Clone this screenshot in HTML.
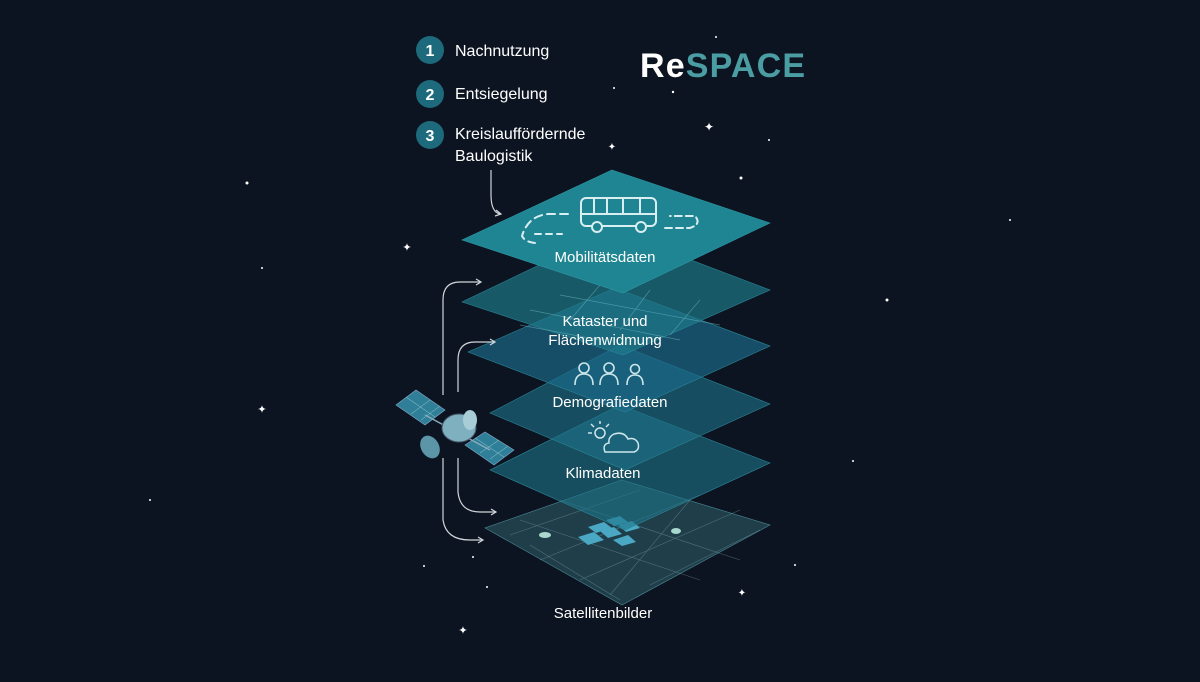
<!DOCTYPE html>
<html><head><meta charset="utf-8"><style>
html,body{margin:0;padding:0;background:#0d1421;}
body{width:1200px;height:682px;overflow:hidden;position:relative;font-family:"Liberation Sans",sans-serif;}
svg{position:absolute;left:0;top:0}
</style></head><body>
<svg width="1200" height="682" viewBox="0 0 1200 682" xmlns="http://www.w3.org/2000/svg">
<rect width="1200" height="682" fill="#0d1421"/>
<g fill="#fff">
<circle cx="247" cy="183" r="1.5"/><circle cx="262" cy="268" r="1"/><circle cx="741" cy="178" r="1.5"/><circle cx="887" cy="300" r="1.5"/>
<circle cx="853" cy="461" r="1"/><circle cx="795" cy="565" r="1"/><circle cx="424" cy="566" r="1"/><circle cx="473" cy="557" r="1"/>
<circle cx="487" cy="587" r="1"/><circle cx="673" cy="92" r="1.2"/><circle cx="614" cy="88" r="1"/><circle cx="716" cy="37" r="1"/>
<circle cx="769" cy="140" r="1"/><circle cx="1010" cy="220" r="1"/><circle cx="150" cy="500" r="1"/>
<text x="709" y="131" font-size="12" text-anchor="middle">✦</text><text x="407" y="251" font-size="11" text-anchor="middle">✦</text>
<text x="262" y="413" font-size="11" text-anchor="middle">✦</text><text x="463" y="634" font-size="11" text-anchor="middle">✦</text>
<text x="742" y="596" font-size="10" text-anchor="middle">✦</text><text x="612" y="150" font-size="10" text-anchor="middle">✦</text>
</g>
<g>
<polygon points="622,480 770,525 622,605 485,528" fill="#1f3e4a" stroke="#4a8a96" stroke-width="0.6"/>
<g stroke="#7aa4ac" stroke-width="0.6" opacity="0.5" fill="none">
<line x1="520" y1="520" x2="700" y2="580"/><line x1="560" y1="500" x2="740" y2="560"/><line x1="540" y1="560" x2="700" y2="495"/>
<line x1="580" y1="580" x2="740" y2="510"/><line x1="610" y1="595" x2="690" y2="500"/><line x1="510" y1="535" x2="640" y2="490"/>
<line x1="530" y1="545" x2="620" y2="600"/><line x1="650" y1="585" x2="760" y2="530"/>
</g>
<g fill="#4aa8c4"><polygon points="588,527 604,522 612,528 596,533"/><polygon points="606,520 620,516 628,522 614,526"/><polygon points="578,537 594,532 604,540 588,545"/><polygon points="600,531 614,527 622,534 608,538"/><polygon points="618,525 632,521 640,528 626,532"/><polygon points="613,540 628,535 636,542 622,546"/></g>
<g fill="#cfe" opacity="0.8"><ellipse cx="545" cy="535" rx="6" ry="3"/><ellipse cx="676" cy="531" rx="5" ry="3"/></g>
<polygon points="620,405 770,463 625,530 490,470" fill="#1d7588" fill-opacity="0.6" stroke="#2b8595" stroke-width="0.6"/>
<polygon points="620,345 770,404 625,470 490,413" fill="#1d7188" fill-opacity="0.62" stroke="#2b8595" stroke-width="0.6"/>
<polygon points="615,288 770,346 625,412 468,352" fill="#1b6a8a" fill-opacity="0.68" stroke="#2b8595" stroke-width="0.6"/>
<polygon points="612,230 770,290 623,355 462,302" fill="#1e7a8a" fill-opacity="0.68" stroke="#2b8595" stroke-width="0.6"/>
<g stroke="#6fbac4" stroke-width="0.7" opacity="0.55" fill="none"><line x1="530" y1="310" x2="680" y2="340"/><line x1="560" y1="295" x2="720" y2="325"/><line x1="600" y1="285" x2="570" y2="320"/><line x1="650" y1="290" x2="620" y2="330"/><line x1="700" y1="300" x2="670" y2="335"/><line x1="520" y1="325" x2="600" y2="340"/></g>
<polygon points="612,170 770,223 623,293 462,240" fill="#1f8593" stroke="#2e97a3" stroke-width="0.6"/>
</g>
<g stroke="#d8eef0" stroke-width="2" fill="none" stroke-linecap="round">
<rect x="581" y="198" width="75" height="28" rx="5"/><line x1="594" y1="198" x2="594" y2="214"/><line x1="607" y1="198" x2="607" y2="214"/><line x1="623" y1="198" x2="623" y2="214"/><line x1="640" y1="198" x2="640" y2="214"/><line x1="581" y1="214" x2="656" y2="214"/>
<circle cx="597" cy="227" r="5" fill="#1f8593"/><circle cx="641" cy="227" r="5" fill="#1f8593"/>
<path d="M568 214 H548 Q528 216 522 236 Q525 242 535 243" stroke-dasharray="8 5"/><line x1="535" y1="234" x2="562" y2="234" stroke-dasharray="6 5"/>
<path d="M665 228 H690 Q702 224 695 216 H670" stroke-dasharray="7 4"/>
</g>
<g stroke="#cde6ea" stroke-width="1.6" fill="none"><circle cx="584" cy="368" r="5"/><path d="M575 385 Q575 374 584 374 Q593 374 593 385"/><circle cx="609" cy="368" r="5"/><path d="M600 385 Q600 374 609 374 Q618 374 618 385"/><circle cx="635" cy="369" r="4.5"/><path d="M627 385 Q627 375 635 375 Q643 375 643 385"/></g>
<g stroke="#cde6ea" stroke-width="1.5" fill="none"><circle cx="600" cy="433" r="5"/><line x1="600" y1="424" x2="600" y2="421"/><line x1="592" y1="433" x2="588" y2="433"/><line x1="594" y1="427" x2="591" y2="424"/><line x1="606" y1="427" x2="609" y2="424"/><path d="M605 452 H634 Q640 450 638 443 Q635 437 628 439 Q624 431 614 434 Q608 437 609 443 Q602 444 605 452Z"/></g>
<g fill="#ffffff" font-size="15" text-anchor="middle">
<text x="605" y="262">Mobilitätsdaten</text><text x="605" y="326">Kataster und</text><text x="605" y="345">Flächenwidmung</text>
<text x="610" y="407">Demografiedaten</text><text x="603" y="478">Klimadaten</text><text x="603" y="618">Satellitenbilder</text></g>
<g stroke="#d0d6da" stroke-width="1.2" fill="none">
<path d="M491 170 V195 Q491 212 500 214"/><path d="M496 210 L501 214 L495 216"/>
<path d="M443 395 V300 Q443 282 460 282 H480"/><path d="M476 279 L481 282 L476 285"/>
<path d="M458 392 V360 Q458 342 475 342 H494"/><path d="M490 339 L495 342 L490 345"/>
<path d="M458 458 V492 Q460 512 480 512 H495"/><path d="M491 509 L496 512 L491 515"/>
<path d="M443 458 V520 Q446 540 470 540 H482"/><path d="M478 537 L483 540 L478 543"/>
</g>
<g>
<polygon points="396,405 416,390 445,410 425,425" fill="#2f7f98" stroke="#8ac" stroke-width="0.6"/>
<g stroke="#9cc" stroke-width="0.5"><line x1="406" y1="397" x2="435" y2="417"/><line x1="411" y1="414" x2="430" y2="400"/><line x1="421" y1="420" x2="440" y2="406"/></g>
<polygon points="465,445 485,432 514,450 494,465" fill="#2f7f98" stroke="#8ac" stroke-width="0.6"/>
<g stroke="#9cc" stroke-width="0.5"><line x1="475" y1="438" x2="504" y2="457"/><line x1="480" y1="453" x2="499" y2="440"/><line x1="490" y1="459" x2="508" y2="446"/></g>
<line x1="425" y1="415" x2="490" y2="450" stroke="#8ab" stroke-width="1.5"/>
<ellipse cx="459" cy="428" rx="17" ry="14" fill="#7fb0bf" stroke="#456" stroke-width="1"/>
<ellipse cx="470" cy="420" rx="7" ry="10" fill="#a8cdd6"/>
<ellipse cx="430" cy="447" rx="9" ry="12" fill="#5d95a8" transform="rotate(-30 430 447)"/>
</g>
<g><circle cx="430" cy="50" r="14" fill="#1d6a7c"/><circle cx="430" cy="94" r="14" fill="#1d6a7c"/><circle cx="430" cy="135" r="14" fill="#1d6a7c"/></g>
<g fill="#fff" font-size="16"><text x="430" y="56" text-anchor="middle" font-weight="bold">1</text><text x="430" y="100" text-anchor="middle" font-weight="bold">2</text><text x="430" y="141" text-anchor="middle" font-weight="bold">3</text>
<text x="455" y="56">Nachnutzung</text><text x="455" y="99">Entsiegelung</text><text x="455" y="139">Kreislauffördernde</text><text x="455" y="161">Baulogistik</text></g>
<text x="640" y="77" font-size="34" font-weight="bold" textLength="165"><tspan fill="#ffffff">Re</tspan><tspan fill="#4a9ea3">SPACE</tspan></text>
</svg>
</body></html>
